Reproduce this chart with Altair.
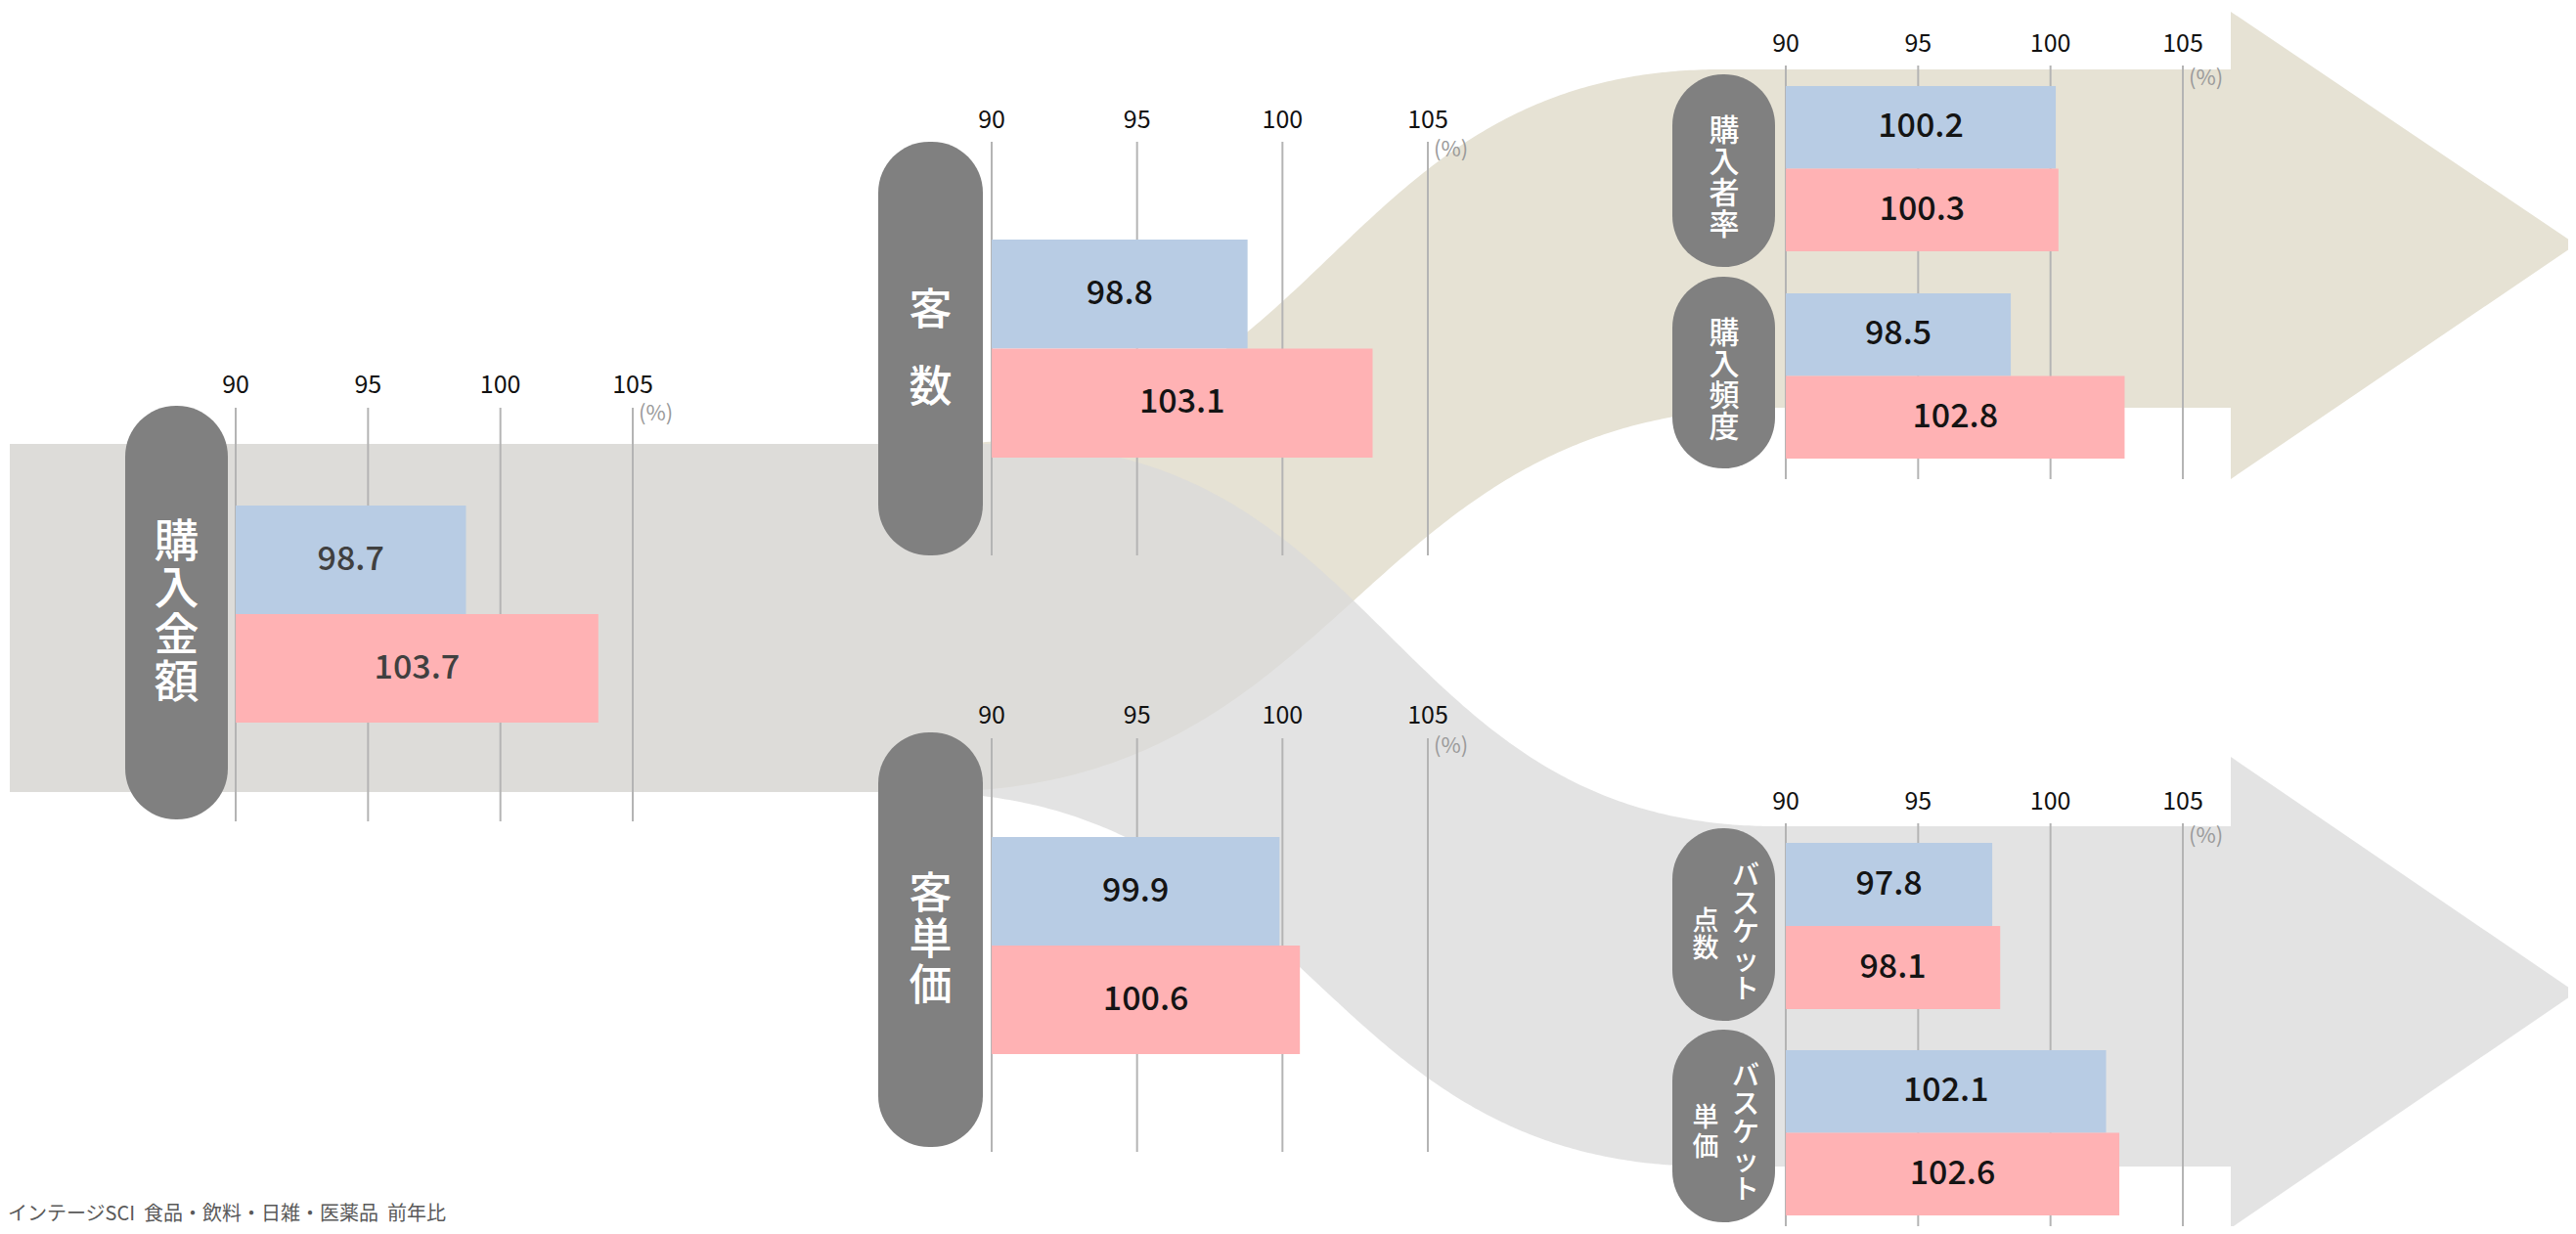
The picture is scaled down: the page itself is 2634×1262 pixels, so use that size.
import altair as alt
import numpy as np
import pandas as pd

# ---------------- data ----------------
metrics = ["購入金額", "客数", "客単価", "購入者率", "購入頻度", "バスケット点数", "バスケット単価"]
series = ["前年", "当年"]
blue_values = [98.7, 98.8, 99.9, 100.2, 98.5, 97.8, 102.1]
pink_values = [103.7, 103.1, 100.6, 100.3, 102.8, 98.1, 102.6]
tick_values = [90, 95, 100, 105]
unit_label = "(%)"
footer_text = "インテージSCI\u00a0\u00a0食品・飲料・日雑・医薬品\u00a0\u00a0前年比"
pill_text = {
    "購入金額": ["購入金額"],
    "客数": ["客数"],
    "客単価": ["客単価"],
    "購入者率": ["購入者率"],
    "購入頻度": ["購入頻度"],
    "バスケット点数": ["バスケット", "点数"],
    "バスケット単価": ["バスケット", "単価"],
}

# ---------------- layout / style ----------------
W, H = 2618, 1246
FONT = "Noto Sans CJK JP"
BLUE, PINK = "#B8CCE4", "#FFB2B4"
PILL_GREY = "#808080"
GRID = "#B4B4B4"
BEIGE = "#E6E2D4"
GREY_FLOW = "#DADADA"

PANELS = {
    "A": dict(x90=233, x105=639, tick_y=386, grid=(409, 832), pct_y=415),
    "B": dict(x90=1006, x105=1452, tick_y=115, grid=(137, 560), pct_y=145),
    "C": dict(x90=1006, x105=1452, tick_y=724, grid=(747, 1170), pct_y=755),
    "D": dict(x90=1818, x105=2224, tick_y=37, grid=(59, 482), pct_y=72),
    "E": dict(x90=1818, x105=2224, tick_y=812, grid=(834, 1254), pct_y=847),
}
# cols: (centre x, centre y, font size, character pitch) for each vertical text column
METRIC_LAYOUT = {
    "購入金額": dict(panel="A", bars=(509, 731), pill=(120, 225, 407, 830),
                 cols=[(172.5, 619, 46, 48)]),
    "客数": dict(panel="B", bars=(237, 460), pill=(890, 997, 137, 560),
               cols=[(943.5, 350.5, 44, 79)]),
    "客単価": dict(panel="C", bars=(848, 1070), pill=(890, 997, 741, 1165),
                cols=[(943.5, 955, 44, 47)]),
    "購入者率": dict(panel="D", bars=(80, 249), pill=(1702, 1807, 68, 265),
                 cols=[(1755, 174.5, 31, 32)]),
    "購入頻度": dict(panel="D", bars=(292, 461), pill=(1702, 1807, 275, 471),
                 cols=[(1755, 381.5, 31, 32)]),
    "バスケット点数": dict(panel="E", bars=(854, 1024), pill=(1702, 1807, 839, 1036),
                    cols=[(1777, 947, 28, 29), (1736, 949, 27, 28)]),
    "バスケット単価": dict(panel="E", bars=(1066, 1235), pill=(1702, 1807, 1045, 1242),
                    cols=[(1777, 1152, 28, 29), (1736, 1151, 27, 30)]),
}
# flow edges: (x_start, x_end, y_start, y_end) of the S-curves, canvas px
BEIGE_TOP = (952, 1752, 446, 63)
BEIGE_BOT = (942, 1812, 802, 409)
GREY_TOP = (1017, 1807, 446, 837)
GREY_BOT = (927, 1742, 802, 1185)
FLOW_X0, FLOW_X1, ARROW_TIP = 2, 2273, 2626
BEIGE_HEAD = (4, 482, 242)
GREY_HEAD = (766, 1248, 1007)

XS = alt.Scale(domain=[0, W], range=[0, W], nice=False, zero=False)
YS = alt.Scale(domain=[0, H], range=[0, H], nice=False, zero=False)


def s_edge(xs, x0, x1, y0, y1):
    t = np.linspace(0, 1, 1201)
    bx = x0 + (x1 - x0) * (1.5 * t * (1 - t) + t ** 3)
    by = y0 + (y1 - y0) * (3 * t ** 2 - 2 * t ** 3)
    return np.interp(xs, bx, by)


xs = np.concatenate([[FLOW_X0], np.arange(900, 1870, 4), [FLOW_X1]]).astype(float)


def flow_layer(top, bot, color, opacity):
    df = pd.DataFrame({"x": xs, "y": s_edge(xs, *top), "y2": s_edge(xs, *bot)})
    return alt.Chart(df).mark_area(color=color, opacity=opacity, interpolate="linear").encode(
        x=alt.X("x:Q", scale=XS, axis=None),
        y=alt.Y("y:Q", scale=YS, axis=None),
        y2="y2:Q",
    )


def head_layer(head, color, opacity):
    t0, b0, tip = head
    df = pd.DataFrame({"x": [FLOW_X1, ARROW_TIP], "y": [t0, tip], "y2": [b0, tip]})
    return alt.Chart(df).mark_area(color=color, opacity=opacity, interpolate="linear").encode(
        x=alt.X("x:Q", scale=XS, axis=None),
        y=alt.Y("y:Q", scale=YS, axis=None),
        y2="y2:Q",
    )


layers = [
    flow_layer(BEIGE_TOP, BEIGE_BOT, BEIGE, 1.0),
    head_layer(BEIGE_HEAD, BEIGE, 1.0),
    flow_layer(GREY_TOP, GREY_BOT, GREY_FLOW, 0.76),
    head_layer(GREY_HEAD, GREY_FLOW, 0.76),
]


def pscale(p):
    P = PANELS[p]
    return alt.Scale(domain=[90, 105], range=[P["x90"], P["x105"]], nice=False, zero=False)


ticks_df = pd.DataFrame({"t": tick_values, "label": [str(v) for v in tick_values]})

# grid lines, tick labels, unit labels
for p, P in PANELS.items():
    layers.append(
        alt.Chart(ticks_df).mark_rule(color=GRID, strokeWidth=2).encode(
            x=alt.X("t:Q", scale=pscale(p), axis=None),
            y=alt.value(P["grid"][0]),
            y2=alt.value(P["grid"][1]),
        )
    )
    layers.append(
        alt.Chart(ticks_df).mark_text(font=FONT, fontSize=25, color="#111111", baseline="middle").encode(
            x=alt.X("t:Q", scale=pscale(p), axis=None),
            y=alt.value(P["tick_y"]),
            text="label:N",
        )
    )
    layers.append(
        alt.Chart(pd.DataFrame({"t": [tick_values[-1]], "u": [unit_label]})).mark_text(
            font=FONT, fontSize=22, color="#9A9A9A", align="left", baseline="middle", dx=6
        ).encode(
            x=alt.X("t:Q", scale=pscale(p), axis=None),
            y=alt.value(P["pct_y"]),
            text="u:N",
        )
    )

# bars and value labels
for i, m in enumerate(metrics):
    L = METRIC_LAYOUT[m]
    df = pd.DataFrame({"s": series, "v": [blue_values[i], pink_values[i]]})
    ys = alt.Scale(domain=series, range=list(L["bars"]), paddingInner=0, paddingOuter=0)
    xsc = pscale(L["panel"])
    layers.append(
        alt.Chart(df).mark_bar().encode(
            x=alt.X("v:Q", scale=xsc, axis=None),
            x2=alt.datum(90),
            y=alt.Y("s:N", scale=ys, axis=None),
            color=alt.Color("s:N", scale=alt.Scale(domain=series, range=[BLUE, PINK]), legend=None),
        )
    )
    lab_color = "#404040" if L["panel"] == "A" else "#141414"
    layers.append(
        alt.Chart(df).transform_calculate(mid="(datum.v + 90) / 2").mark_text(
            font=FONT, fontSize=34, color=lab_color, baseline="middle", fontWeight=500
        ).encode(
            x=alt.X("mid:Q", scale=xsc, axis=None),
            y=alt.Y("s:N", scale=ys, axis=None),
            text=alt.Text("v:Q", format=".1f"),
        )
    )

# pills
pill_df = pd.DataFrame(
    [dict(m=m, x0=METRIC_LAYOUT[m]["pill"][0], x1=METRIC_LAYOUT[m]["pill"][1],
          y0=METRIC_LAYOUT[m]["pill"][2], y1=METRIC_LAYOUT[m]["pill"][3]) for m in metrics]
)
layers.append(
    alt.Chart(pill_df).mark_rect(color=PILL_GREY, cornerRadius=52).encode(
        x=alt.X("x0:Q", scale=XS, axis=None),
        x2="x1:Q",
        y=alt.Y("y0:Q", scale=YS, axis=None),
        y2="y1:Q",
    )
)

# vertical pill text: one text item per character, column centred on (cx, cy)
for m in metrics:
    for txt, (cx, cy, fs, pitch) in zip(pill_text[m], METRIC_LAYOUT[m]["cols"]):
        n = len(txt)
        d = pd.DataFrame({
            "x": [cx] * n,
            "y": [cy + (k - (n - 1) / 2) * pitch for k in range(n)],
            "t": list(txt),
        })
        layers.append(
            alt.Chart(d).mark_text(
                font=FONT, fontSize=fs, color="white",
                align="center", baseline="middle", fontWeight=500
            ).encode(
                x=alt.X("x:Q", scale=XS, axis=None),
                y=alt.Y("y:Q", scale=YS, axis=None),
                text="t:N",
            )
        )

# footer
layers.append(
    alt.Chart(pd.DataFrame({"t": [footer_text]})).mark_text(
        font=FONT, fontSize=20, color="#595959", align="left", baseline="middle"
    ).encode(x=alt.value(0), y=alt.value(1234), text="t:N")
)

chart = (
    alt.layer(*layers)
    .resolve_scale(x="independent", y="independent", color="independent")
    .properties(width=W, height=H, padding=0, autosize=alt.AutoSizeParams(type="none"), background="white")
    .configure_view(stroke=None)
)

chart.save("out.html", embed_options={"renderer": "svg", "actions": False})
